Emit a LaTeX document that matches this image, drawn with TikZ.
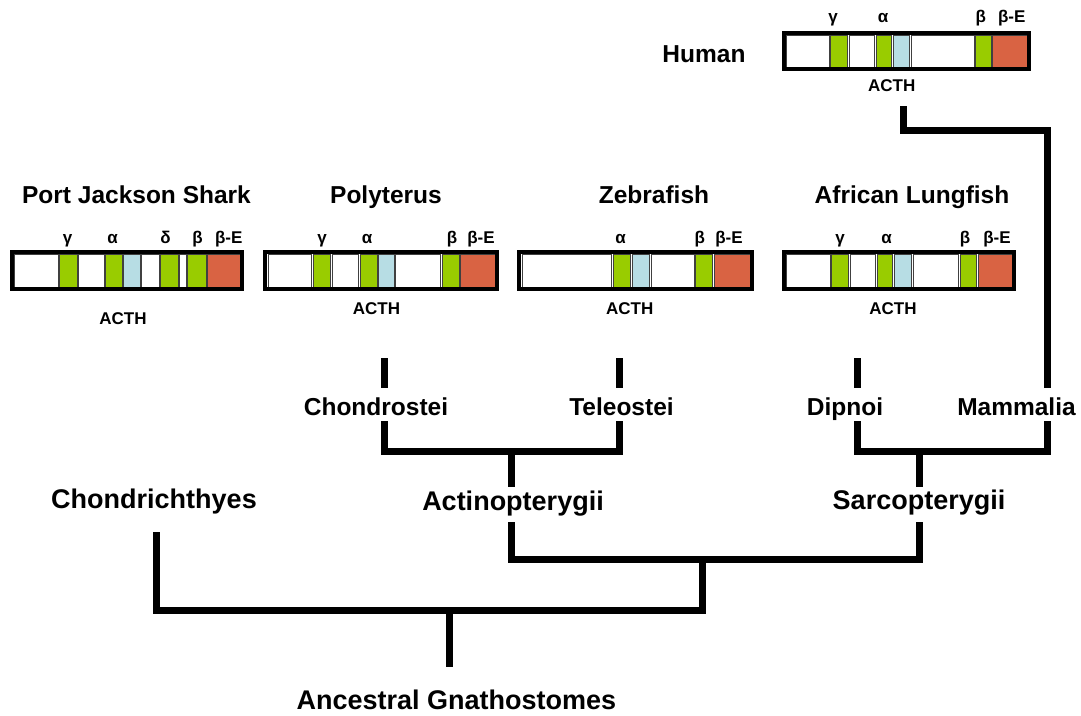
\documentclass[tikz,border=0pt]{standalone}
\usepackage{fontspec}
\setmainfont{Liberation Sans}
\definecolor{gG}{RGB}{153,204,0}
\definecolor{gB}{RGB}{183,221,228}
\definecolor{gR}{RGB}{217,99,67}
\definecolor{gW}{RGB}{255,255,255}
\newcommand{\genebar}[5]{%
  \foreach \a/\b/\c in {#5} {\path[seg,fill=\c] (\a,#3+2) rectangle (\b,#4-2);}
  \draw[barframe] (#1,#3) rectangle (#2,#4);
}
\begin{document}
\begin{tikzpicture}[x=1pt,y=-1pt,
  seg/.style={draw=black!75,line width=0.8pt},
  barframe/.style={draw=black,line width=4pt},
  title/.style={font=\fontsize{24.5}{28}\selectfont\bfseries,inner sep=0pt,anchor=base},
  big/.style={font=\fontsize{27}{30}\selectfont\bfseries,inner sep=0pt,anchor=base},
  small/.style={font=\fontsize{17}{20}\selectfont\bfseries,inner sep=0pt,anchor=base},
  branch/.style={line width=7pt,line join=miter,line cap=butt}]
\useasboundingbox (0,0) rectangle (1081,715);
% ---------- gene bars ----------
\genebar{12}{242}{252}{289}{14/58/gW,59/77/gG,78/104/gW,105/122/gG,123/140/gB,141/159/gW,160/178/gG,179/186/gW,187/206/gG,207/240/gR}
\genebar{265}{497}{252}{289}{268/311/gW,313/330/gG,332/358/gW,360/377/gG,378/394/gB,395/440/gW,442/459/gG,460/495/gR}
\genebar{519}{752}{252}{289}{522/611/gW,613/630/gG,632/649/gB,651/694/gW,695/712/gG,714/750/gR}
\genebar{784}{1014}{252}{289}{786/830/gW,831/848/gG,850/875/gW,877/892/gG,894/911/gB,913/958/gW,960/976/gG,978/1012/gR}
\genebar{784}{1029}{33}{69}{786/829/gW,830/847/gG,849/874/gW,876/891/gG,893/909/gB,911/974/gW,975/991/gG,992/1027/gR}
% ---------- titles ----------
\node[title] (human) at (704,62) {Human};
\node[title] (shark) at (136.5,203) {Port Jackson Shark};
\node[title] (poly) at (386,203) {Polyterus};
\node[title] (zebra) at (654,203) {Zebrafish};
\node[title] (lung) at (912,203) {African Lungfish};
% ---------- small labels ----------
\node[small] (sg) at (67.6,243) {γ};
\node[small] (sa) at (112.5,243) {α};
\node[small] (sd) at (165.5,243) {δ};
\node[small] (sb) at (197.6,243) {β};
\node[small] (se) at (228.7,243) {β-E};
\node[small] (sacth) at (123,324) {ACTH};
\node[small] (pg) at (322,243) {γ};
\node[small] (pa) at (367,243) {α};
\node[small] (pb) at (452,243) {β};
\node[small] (pe) at (481,243) {β-E};
\node[small] (pacth) at (376.5,314.5) {ACTH};
\node[small] (za) at (620.7,243) {α};
\node[small] (zb) at (699.7,243) {β};
\node[small] (ze) at (729,243) {β-E};
\node[small] (zacth) at (629.8,314.5) {ACTH};
\node[small] (lg) at (840,243) {γ};
\node[small] (la) at (886.5,243) {α};
\node[small] (lb) at (965,243) {β};
\node[small] (le) at (997,243) {β-E};
\node[small] (lacth) at (893,314.5) {ACTH};
\node[small] (hg) at (833,22) {γ};
\node[small] (ha) at (883,22) {α};
\node[small] (hb) at (980.7,22) {β};
\node[small] (he) at (1011.7,22) {β-E};
\node[small] (hacth) at (891.7,91) {ACTH};
% ---------- taxon labels ----------
\node[title] (chondrostei) at (376,415) {Chondrostei};
\node[title] (teleostei) at (621.5,415) {Teleostei};
\node[title] (dipnoi) at (845,415) {Dipnoi};
\node[title] (mammalia) at (1016.5,415) {Mammalia};
\node[big] (actino) at (513,510) {Actinopterygii};
\node[big] (sarco) at (919,509) {Sarcopterygii};
\node[big] (chondri) at (154,508) {Chondrichthyes};
\node[big] (anc) at (456.5,709) {Ancestral Gnathostomes};
% ---------- junction coordinates ----------
\coordinate (polyS) at (384,358);   \coordinate (chsT) at (384,388);
\coordinate (zebS) at (619,358);    \coordinate (telT) at (619,388);
\coordinate (chsB) at (384,421);    \coordinate (telB) at (619,421);
\coordinate (actJ) at (511,451);    \coordinate (actT) at (511,487);
\coordinate (lunS) at (857,358);    \coordinate (dipT) at (857,388);
\coordinate (humS) at (903,106);    \coordinate (mamT) at (1047,388);
\coordinate (dipB) at (857,421);    \coordinate (mamB) at (1047,421);
\coordinate (sarJ) at (919,451);    \coordinate (sarT) at (919,487);
\coordinate (actB) at (511,522);    \coordinate (sarB) at (919,522);
\coordinate (osJ) at (702,559);     \coordinate (rootJ) at (702,610);
\coordinate (chiB) at (156,532);    \coordinate (ancJ) at (449,610);
\coordinate (ancT) at (449,667);
% ---------- branches ----------
\draw[branch] (polyS) -- (chsT);
\draw[branch] (zebS) -- (telT);
\draw[branch] (chsB) |- (actJ) -| (telB);
\draw[branch] (actJ) -- (actT);
\draw[branch] (lunS) -- (dipT);
\draw[branch] (humS) -- (903,130) -| (mamT);
\draw[branch] (dipB) |- (sarJ) -| (mamB);
\draw[branch] (sarJ) -- (sarT);
\draw[branch] (actB) |- (osJ) -| (sarB);
\draw[branch] (chiB) |- (rootJ) -- (osJ);
\draw[branch] (ancJ) -- (ancT);
\end{tikzpicture}
\end{document}
